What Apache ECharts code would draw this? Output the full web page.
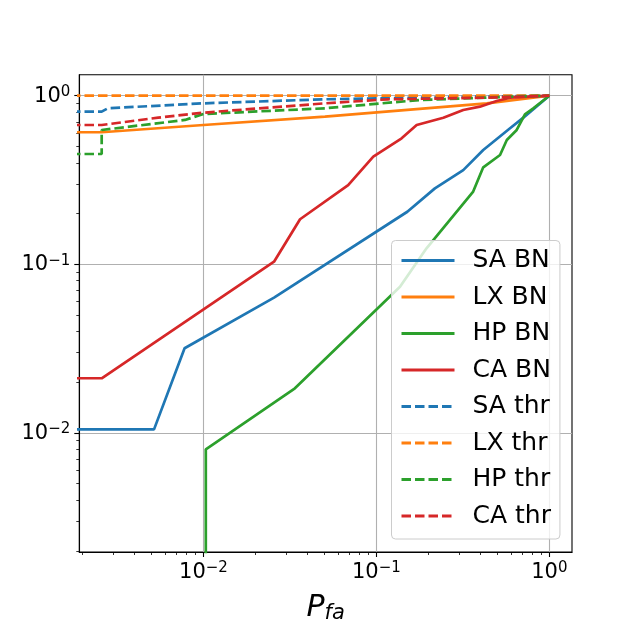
<!DOCTYPE html>
<html>
<head>
<meta charset="utf-8">
<script src="https://cdn.jsdelivr.net/npm/echarts@6/dist/echarts.min.js"></script>
<style>
  html, body { margin: 0; padding: 0; background: #fff; }
  #chart { width: 635px; height: 620px; }
</style>
</head>
<body>
<div id="chart"></div>
<script>
// [Pfa, Pd] pairs; 0.001 stands for a zero Pfa that falls off the left edge
const saBn = [[0.001, 0.0105], [0.00518, 0.0105], [0.00778, 0.0318], [0.0256, 0.0634], [0.151, 0.205], [0.218, 0.282], [0.318, 0.362], [0.415, 0.476], [0.593, 0.641], [0.708, 0.741], [1, 1]]
const lxBn = [[0.001, 0.607], [0.00258, 0.607], [0.01, 0.67], [0.0504, 0.751], [0.435, 0.901], [1, 1]]
const hpBn = [[0.01032, 0.0001], [0.01032, 0.008], [0.0338, 0.0184], [0.137, 0.0737], [0.195, 0.1245], [0.363, 0.27], [0.415, 0.376], [0.519, 0.445], [0.568, 0.546], [0.648, 0.626], [0.723, 0.776], [0.808, 0.842], [1, 1]]
const caBn = [[0.001, 0.0211], [0.00258, 0.0211], [0.0256, 0.1036], [0.0362, 0.185], [0.0687, 0.295], [0.096, 0.435], [0.14, 0.559], [0.171, 0.67], [0.244, 0.74], [0.318, 0.823], [0.397, 0.861], [0.496, 0.93], [0.593, 0.973], [1, 1]]
const saThr = [[0.001, 0.804], [0.00258, 0.804], [0.0028, 0.842], [0.01, 0.901], [0.0504, 0.952], [0.3, 0.985], [1, 1]]
const lxThr = [[0.001, 1], [1, 1]]
const hpThr = [[0.001, 0.451], [0.00258, 0.451], [0.00258, 0.626], [0.00782, 0.718], [0.01, 0.779], [0.0504, 0.842], [0.179, 0.943], [0.65, 0.99], [1, 1]]
const caThr = [[0.001, 0.67], [0.00258, 0.67], [0.00548, 0.741], [0.01, 0.793], [0.0504, 0.901], [0.116, 0.952], [0.435, 0.973], [1, 1]]

const names = ['SA BN', 'LX BN', 'HP BN', 'CA BN', 'SA thr', 'LX thr', 'HP thr', 'CA thr']
const xTicks = [0.01, 0.1, 1]
const yTicks = [0.01, 0.1, 1]
const xMin = 0.001915, xMax = 1.353
const yMin = 0.001968, yMax = 1.332

const colors = ['#1f77b4', '#ff7f0e', '#2ca02c', '#d62728']
const font = 'DejaVu Sans'

// minor ticks at 2..9 x 10^k
function minors(lo, hi) {
  const out = []
  for (let e = -3; e <= 0; e++) {
    for (let m = 2; m <= 9; m++) {
      const v = m * Math.pow(10, e)
      if (v > lo && v < hi) out.push(v)
    }
  }
  return out
}

function powLabel(v) {
  const e = Math.round(Math.log10(v))
  return '{b|10}{s|' + (e < 0 ? '\u2212' + (-e) : e) + '}'
}

const labelRich = {
  b: { fontSize: 21, fontFamily: font, color: '#000', lineHeight: 22, verticalAlign: 'bottom' },
  s: { fontSize: 15, fontFamily: font, color: '#000', lineHeight: 15, padding: [0, 0, 12, 0], verticalAlign: 'top' }
}

const blackLine = { color: '#000', width: 1.1 }
const gridLine = { show: true, lineStyle: { color: '#b0b0b0', width: 1.1 } }

const chart = echarts.init(document.getElementById('chart'), null, { renderer: 'canvas' })

const data = [saBn, lxBn, hpBn, caBn, saThr, lxThr, hpThr, caThr]

const option = {
  animation: false,
  backgroundColor: '#fff',
  color: colors,
  grid: {
    left: 79.3, right: 63, top: 74.7, bottom: 68,
    show: true, borderColor: '#000', borderWidth: 1.1,
    outerBoundsMode: 'none'
  },
  xAxis: [
    {
      type: 'log', logBase: 10, min: xMin, max: xMax, position: 'bottom',
      axisLine: { show: true, lineStyle: blackLine },
      axisTick: { show: true, inside: false, length: 5, customValues: xTicks, lineStyle: blackLine },
      axisLabel: { customValues: xTicks, formatter: powLabel, margin: 9, rich: labelRich },
      splitLine: gridLine,
      minorTick: { show: false },
      name: '{p|P}{f|fa}',
      nameLocation: 'middle',
      nameGap: 40,
      nameTextStyle: {
        rich: {
          p: { fontSize: 30, fontStyle: 'italic', fontFamily: font, color: '#000', verticalAlign: 'top' },
          f: { fontSize: 21, fontStyle: 'italic', fontFamily: font, color: '#000', padding: [10, 0, 0, 0], verticalAlign: 'bottom' }
        }
      }
    },
    {
      type: 'log', logBase: 10, min: xMin, max: xMax, position: 'bottom',
      axisLine: { show: false },
      axisTick: { show: true, inside: false, length: 3, customValues: minors(xMin, xMax), lineStyle: { color: '#000', width: 0.8 } },
      axisLabel: { show: false },
      splitLine: { show: false }
    }
  ],
  yAxis: [
    {
      type: 'log', logBase: 10, min: yMin, max: yMax, position: 'left',
      axisLine: { show: true, lineStyle: blackLine },
      axisTick: { show: true, inside: false, length: 5, customValues: yTicks, lineStyle: blackLine },
      axisLabel: { customValues: yTicks, formatter: powLabel, margin: 9, rich: labelRich },
      splitLine: gridLine,
      minorTick: { show: false }
    },
    {
      type: 'log', logBase: 10, min: yMin, max: yMax, position: 'left',
      axisLine: { show: false },
      axisTick: { show: true, inside: false, length: 3, customValues: minors(yMin, yMax), lineStyle: { color: '#000', width: 0.8 } },
      axisLabel: { show: false },
      splitLine: { show: false }
    }
  ],
  legend: {
    orient: 'vertical',
    left: 391.5,
    top: 240.5,
    padding: [7.5, 9, 10.5, 8.5],
    itemWidth: 53,
    itemHeight: 14,
    itemGap: 11.5,
    backgroundColor: 'rgba(255,255,255,0.8)',
    borderColor: '#cccccc',
    borderWidth: 1,
    borderRadius: 4,
    itemStyle: { opacity: 0 },
    lineStyle: { width: 3 },
    textStyle: { fontFamily: font, fontSize: 25, lineHeight: 25, color: '#000', padding: [0, 0, 0, 13] },
    data: names
  },
  series: names.map((name, i) => ({
    name: name,
    type: 'line',
    data: data[i],
    symbol: 'none',
    clip: true,
    color: colors[i % 4],
    lineStyle: {
      color: colors[i % 4],
      width: 2.7,
      type: i < 4 ? 'solid' : [9.5, 4]
    }
  }))
}

chart.setOption(option)

window.addEventListener('resize', () => {
  chart.resize()
})
</script>
</body>
</html>
